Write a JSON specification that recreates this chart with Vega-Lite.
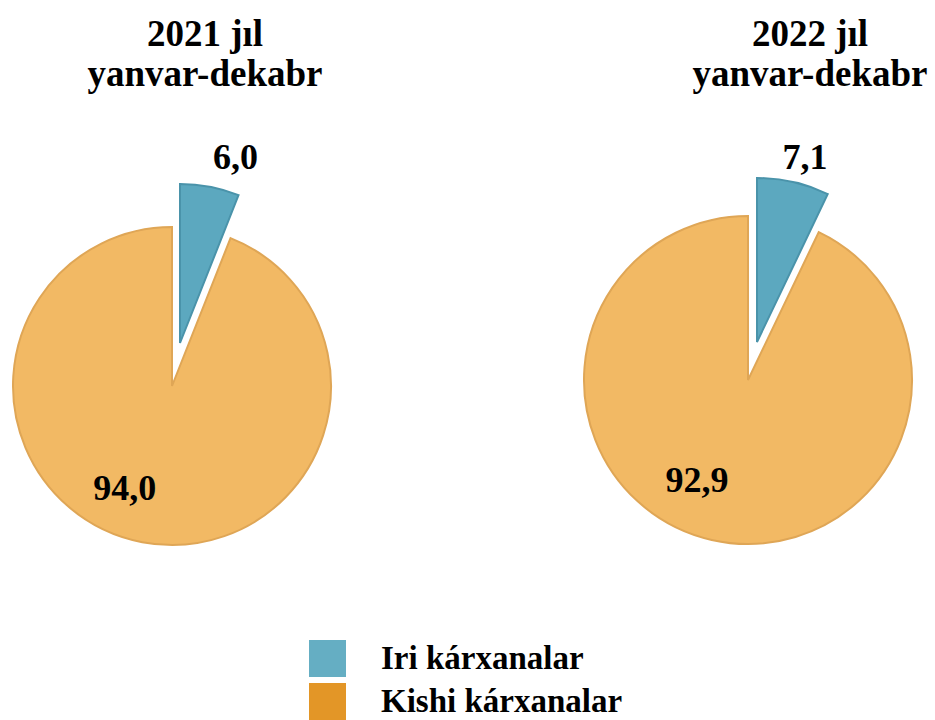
{
  "$schema": "https://vega.github.io/schema/vega-lite/v6.json",
  "padding": {"top": 15, "left": 0, "right": 0, "bottom": 0},
  "background": "white",
  "config": {
    "view": {"stroke": null},
    "title": {"font": "Liberation Serif", "fontSize": 37, "fontWeight": "bold", "lineHeight": 40, "color": "#000000"}
  },
  "data": {
    "values": [
      {"year": "2021", "cat": "Iri kárxanalar", "value": 6.0, "label": "6,0"},
      {"year": "2021", "cat": "Kishi kárxanalar", "value": 94.0, "label": "94,0"},
      {"year": "2022", "cat": "Iri kárxanalar", "value": 7.1, "label": "7,1"},
      {"year": "2022", "cat": "Kishi kárxanalar", "value": 92.9, "label": "92,9"}
    ]
  },
  "spacing": 232,
  "hconcat": [
    {
      "width": 344,
      "height": 440,
      "title": {"text": ["2021 jıl", "yanvar-dekabr"], "dx": 33, "offset": 46},
      "transform": [{"filter": "datum.year == '2021'"}],
      "encoding": {
        "theta": {"field": "value", "type": "quantitative", "stack": true, "scale": {"domain": [0, 100]}}
      },
      "layer": [
        {
          "mark": {
            "type": "arc",
            "outerRadius": 159,
            "fill": {"expr": "datum.cat == 'Iri kárxanalar' ? '#5CA8BF' : '#F2B964'"},
            "stroke": {"expr": "datum.cat == 'Iri kárxanalar' ? '#4A93AA' : '#DFA656'"},
            "strokeWidth": 2,
            "xOffset": {"expr": "datum.cat == 'Iri kárxanalar' ? 8 : 0"},
            "yOffset": {"expr": "datum.cat == 'Iri kárxanalar' ? -43 : 0"}
          }
        },
        {
          "mark": {
            "type": "text",
            "font": "Liberation Serif",
            "fontSize": 36,
            "fontWeight": "bold",
            "color": "#000000",
            "baseline": "middle",
            "align": "center",
            "radius": {"expr": "datum.cat == 'Iri kárxanalar' ? 190 : 113"},
            "xOffset": {"expr": "datum.cat == 'Iri kárxanalar' ? 28 : -26"},
            "yOffset": {"expr": "datum.cat == 'Iri kárxanalar' ? -41 : -8"}
          },
          "encoding": {"text": {"field": "label", "type": "nominal"}}
        },
        {
          "mark": {"type": "text", "text": ""},
          "encoding": {
            "fill": {
              "field": "cat",
              "type": "nominal",
              "scale": {"domain": ["Iri kárxanalar", "Kishi kárxanalar"], "range": ["#65AEC3", "#E39627"]},
              "legend": {
                "title": null,
                "orient": "none",
                "legendX": 309,
                "legendY": 474,
                "symbolType": "square",
                "symbolSize": 1369,
                "symbolStrokeWidth": 0,
                "symbolOpacity": 1,
                "labelFont": "Liberation Serif",
                "labelFontSize": 33,
                "labelFontWeight": "bold",
                "labelColor": "#000000",
                "labelOffset": 35,
                "labelLimit": 400,
                "rowPadding": 6
              }
            }
          }
        }
      ]
    },
    {
      "width": 344,
      "height": 428,
      "title": {"text": ["2022 jıl", "yanvar-dekabr"], "dx": 62, "offset": 46},
      "transform": [{"filter": "datum.year == '2022'"}],
      "encoding": {
        "theta": {"field": "value", "type": "quantitative", "stack": true, "scale": {"domain": [0, 100]}}
      },
      "layer": [
        {
          "mark": {
            "type": "arc",
            "outerRadius": 164,
            "fill": {"expr": "datum.cat == 'Iri kárxanalar' ? '#5CA8BF' : '#F2B964'"},
            "stroke": {"expr": "datum.cat == 'Iri kárxanalar' ? '#4A93AA' : '#DFA656'"},
            "strokeWidth": 2,
            "xOffset": {"expr": "datum.cat == 'Iri kárxanalar' ? 9 : 0"},
            "yOffset": {"expr": "datum.cat == 'Iri kárxanalar' ? -38 : 0"}
          }
        },
        {
          "mark": {
            "type": "text",
            "font": "Liberation Serif",
            "fontSize": 36,
            "fontWeight": "bold",
            "color": "#000000",
            "baseline": "middle",
            "align": "center",
            "radius": {"expr": "datum.cat == 'Iri kárxanalar' ? 190 : 113"},
            "xOffset": {"expr": "datum.cat == 'Iri kárxanalar' ? 15 : -26"},
            "yOffset": {"expr": "datum.cat == 'Iri kárxanalar' ? -37 : -9"}
          },
          "encoding": {"text": {"field": "label", "type": "nominal"}}
        }
      ]
    }
  ]
}
